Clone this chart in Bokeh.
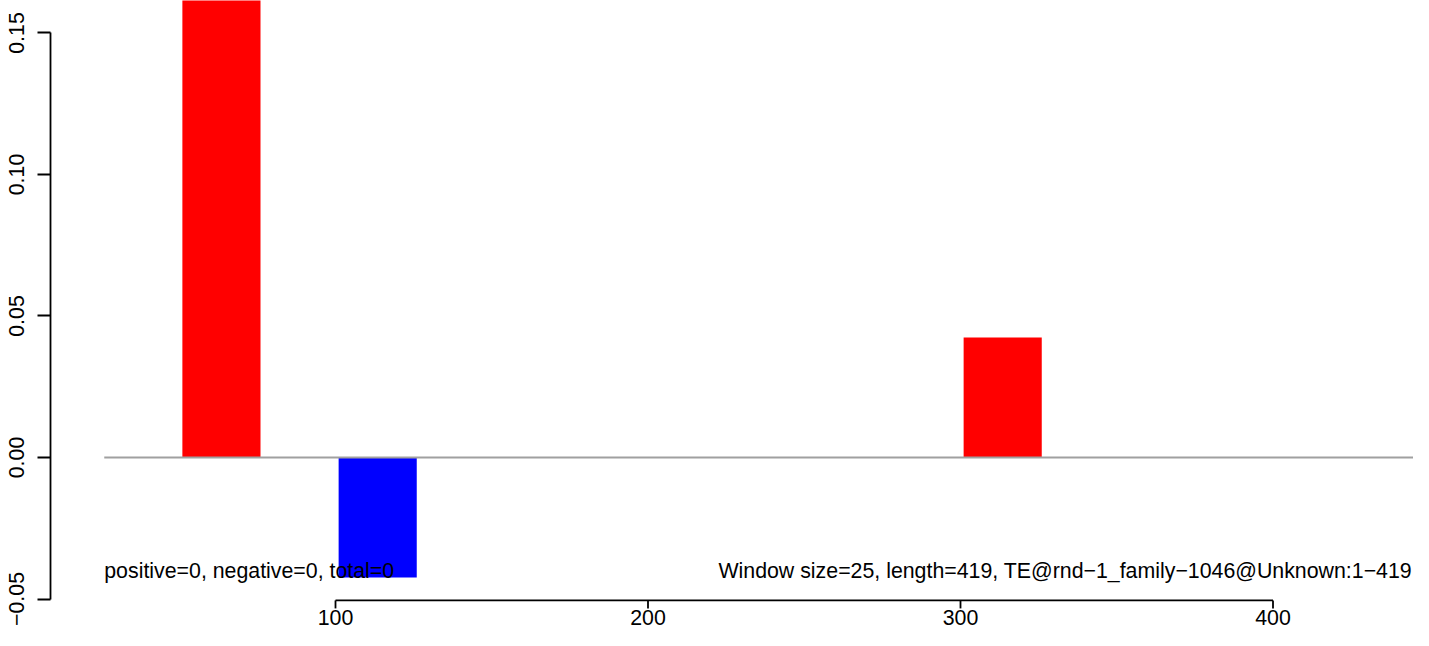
from bokeh.plotting import figure
from bokeh.models import Range1d, FixedTicker, ColumnDataSource
from bokeh.core.properties import value
from bokeh.embed import file_html
from bokeh.resources import INLINE

# ---- data ----
window_start = [51, 101, 301]
window_size = 25
scores = [0.17, -0.0424, 0.0424]
bar_colors = ["red" if s > 0 else "blue" for s in scores]

x_ticks = [100, 200, 300, 400]
x_tick_labels = ["100", "200", "300", "400"]
y_ticks = [-0.05, 0.0, 0.05, 0.10, 0.15]
y_tick_labels = ["\u22120.05", "0.00", "0.05", "0.10", "0.15"]

baseline_start = 26
baseline_end = 476

note_left = "positive=0, negative=0, total=0"
note_right = "Window size=25, length=419, TE@rnd\u22121_family\u22121046@Unknown:1\u2212419"
note_y = -0.04
note_left_x = 26
note_right_x = 444.5

FONT = "Liberation Sans"
FS = "16pt"

W, H = 1413, 630
LEFT = 50
X0, X1 = 8.8, 444.96
Y0, Y1 = -0.06113, 0.16148
px_per_y = H / (Y1 - Y0)

p = figure(width=W, height=H,
           x_range=Range1d(X0, X1), y_range=Range1d(Y0, Y1),
           output_backend="svg", toolbar_location=None,
           x_axis_location=None,
           min_border_left=LEFT, min_border_right=0,
           min_border_top=0, min_border_bottom=0)

src = ColumnDataSource(dict(
    left=window_start,
    right=[s + window_size for s in window_start],
    top=scores,
    bottom=[0] * len(scores),
    color=bar_colors,
))
p.quad(left="left", right="right", top="top", bottom="bottom",
       fill_color="color", line_color=None, source=src)

p.segment(x0=[baseline_start], y0=[0], x1=[baseline_end], y1=[0],
          line_color="#a0a0a0", line_width=1.8)

p.text(x=[note_left_x], y=[note_y], text=[note_left],
       text_font=value(FONT), text_font_size=FS,
       text_align="left", text_baseline="middle", text_color="black")
p.text(x=[note_right_x], y=[note_y], text=[note_right],
       text_font=value(FONT), text_font_size=FS,
       text_align="right", text_baseline="middle", text_color="black")

# ---- bottom axis drawn R-style (line spans first..last tick) ----
axis_y = -0.0505
tick_len = 8 / px_per_y
label_y = axis_y - 17 / px_per_y
p.segment(x0=[x_ticks[0]], y0=[axis_y], x1=[x_ticks[-1]], y1=[axis_y],
          line_color="black", line_width=1.8)
p.segment(x0=x_ticks, y0=[axis_y] * len(x_ticks),
          x1=x_ticks, y1=[axis_y - tick_len] * len(x_ticks),
          line_color="black", line_width=1.8)
p.text(x=x_ticks, y=[label_y] * len(x_ticks), text=x_tick_labels,
       text_font=value(FONT), text_font_size=FS,
       text_align="center", text_baseline="middle", text_color="black")

# ---- left axis ----
p.yaxis.ticker = FixedTicker(ticks=y_ticks)
p.yaxis.bounds = (y_ticks[0], y_ticks[-1])
p.yaxis.major_label_overrides = {t: l for t, l in zip(y_ticks, y_tick_labels)}
p.yaxis.major_label_orientation = "vertical"
ax = p.yaxis[0]
ax.axis_line_color = "black"
ax.axis_line_width = 1.8
ax.major_tick_line_color = "black"
ax.major_tick_line_width = 1.8
ax.major_tick_out = 13
ax.major_tick_in = 0
ax.minor_tick_line_color = None
ax.major_label_text_font = FONT
ax.major_label_text_font_size = FS
ax.major_label_text_color = "black"
ax.major_label_standoff = 13

p.xgrid.grid_line_color = None
p.ygrid.grid_line_color = None
p.outline_line_color = None
p.background_fill_color = "white"
p.border_fill_color = "white"

open("out.html", "w").write(file_html(p, INLINE))
